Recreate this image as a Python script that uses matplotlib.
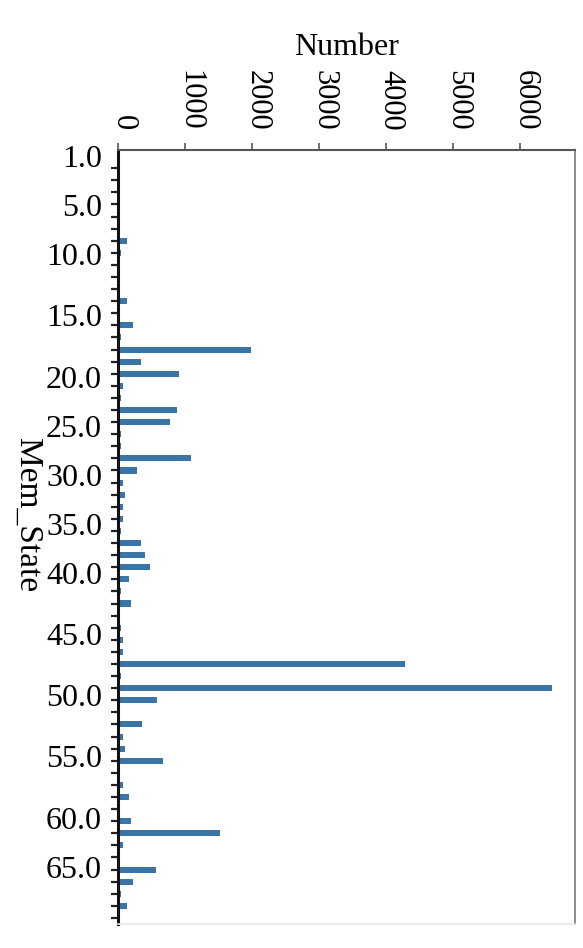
import matplotlib
matplotlib.use('Agg')
import matplotlib.pyplot as plt
import matplotlib.transforms as mtransforms
import numpy as np

# Category codes (Mem_State) in plotted order
mem_state = [1, 2, 3, 4, 5,
             6, 8, 9, 10,
             11, 12, 13, 14, 15,
             16, 17, 18, 19, 20,
             21, 22, 23, 25,
             26, 27, 28, 30,
             31, 32, 33, 35,
             36, 37, 38, 40,
             41, 42, 43, 44, 45,
             46, 47, 48, 49, 50,
             51, 52, 53, 54, 55,
             56, 57, 58, 59, 60,
             61, 62, 63, 65,
             66, 67, 68, 69, 70]

# Counts per category
counts = [6, 3, 2, 8, 5, 4, 9, 130, 45, 7, 3, 10, 134, 6, 219, 45, 1980, 338,
          905, 70, 40, 880, 776, 45, 45, 1090, 284, 75, 104, 75, 75, 45, 338,
          403, 478, 164, 45, 194, 8, 45, 75, 75, 4280, 45, 6480, 582, 5, 358,
          75, 104, 672, 4, 75, 164, 9, 194, 1520, 75, 6, 567, 224, 45, 134, 7]

labelled_codes = [1, 5, 10, 15, 20, 25, 30, 35, 40, 45, 50, 55, 60, 65]
x_ticks = [0, 1000, 2000, 3000, 4000, 5000, 6000]

plt.rcParams['font.family'] = ['Liberation Serif', 'DejaVu Serif']

fig = plt.figure(figsize=(5.83, 9.48), dpi=100)
ax = fig.add_axes([118/583, 1 - 924/948, (575 - 118)/583, (924 - 150)/948])

pos = np.arange(len(mem_state))
ax.barh(pos, counts, height=0.5, color='#3b75a7')

ax.set_ylim(len(mem_state) - 0.5, -0.5)
ax.set_xlim(0, 6820)

# tick marks at every category
ax.set_yticks(pos, minor=True)
ax.tick_params(axis='y', which='minor', length=5, width=1.6, color='#222222',
               direction='out', left=True)
# labels for selected categories (label track slightly stretched as in original)
major_pos = [mem_state.index(c) * 1.013 for c in labelled_codes]
ax.set_yticks(major_pos)
ax.set_yticklabels([f"{float(c):.1f}" for c in labelled_codes], fontsize=23)
ax.tick_params(axis='y', which='major', length=0, pad=11.5)

# value axis on top
ax.xaxis.tick_top()
ax.xaxis.set_label_position('top')
ax.set_xticks(x_ticks)
ax.set_xticklabels([str(t) for t in x_ticks], rotation=-90, fontsize=22,
                   va='bottom', ha='center')
ax.tick_params(axis='x', length=5, width=1.2, color='#555555', pad=9)
shift = mtransforms.ScaledTranslation(5/100, 0, fig.dpi_scale_trans)
for lab in ax.get_xticklabels():
    lab.set_transform(lab.get_transform() + shift)
ax.set_xlabel('Number', fontsize=23, labelpad=11)
ax.set_ylabel('Mem_State', fontsize=24, rotation=-90, va='center', ha='center')
ax.yaxis.set_label_coords(-0.197, 0.528)

for side, c, w in [('left', '#111111', 2.2), ('top', '#555555', 1.5),
                   ('right', '#777777', 1.2), ('bottom', '#e8e8e8', 1.2)]:
    ax.spines[side].set_color(c)
    ax.spines[side].set_linewidth(w)

fig.savefig('out.png', dpi=100)
